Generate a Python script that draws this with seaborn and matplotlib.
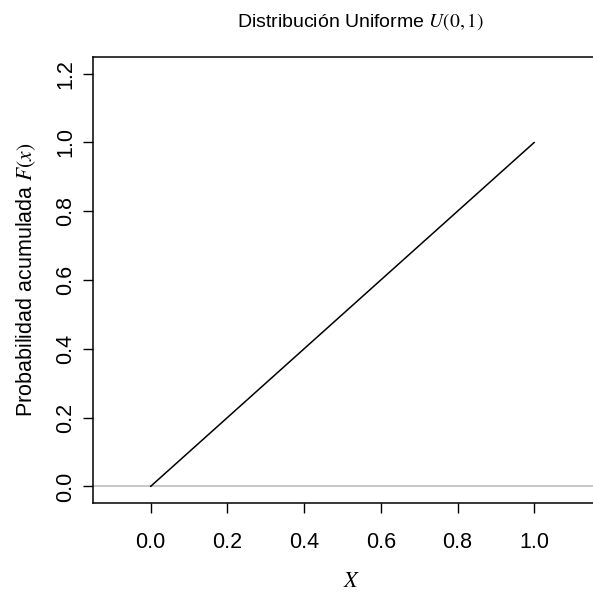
import numpy as np
import pandas as pd
import matplotlib
matplotlib.use("Agg")
import matplotlib.pyplot as plt
import seaborn as sns

# CDF of U(0,1) on its support
x_vals = [0.0, 1.0]
cdf_vals = [0.0, 1.0]
x_ticks = [0.0, 0.2, 0.4, 0.6, 0.8, 1.0]
y_ticks = [0.0, 0.2, 0.4, 0.6, 0.8, 1.0, 1.2]

sns.set_style("ticks")
plt.rcParams["font.family"] = ["Liberation Sans", "DejaVu Sans"]
plt.rcParams["mathtext.fontset"] = "stix"
plt.rcParams["text.color"] = "black"
plt.rcParams["axes.labelcolor"] = "black"
plt.rcParams["xtick.color"] = "black"
plt.rcParams["ytick.color"] = "black"

df = pd.DataFrame({"x": x_vals, "F": cdf_vals})

fig = plt.figure(figsize=(5.93, 5.93), dpi=100)
ax = fig.add_axes([0.1568, 0.1518, 0.8736, 0.752])

ax.axhline(0, color="#bebebe", lw=1.2, zorder=1)
sns.lineplot(data=df, x="x", y="F", color="black", lw=1.1, ax=ax, zorder=2)

ax.set_xlim(-0.15, 1.2)
ax.set_ylim(-0.048, 1.248)
ax.set_xticks(x_ticks)
ax.set_xticklabels([f"{v:.1f}" for v in x_ticks], fontsize=15.5)
ax.set_yticks(y_ticks)
ax.set_yticklabels([f"{v:.1f}" for v in y_ticks], fontsize=15.5, rotation=90, va="center")
ax.tick_params(axis="both", length=7.2, width=1, color="black")
ax.tick_params(axis="x", pad=14)
ax.tick_params(axis="y", pad=5)

for s in ["left", "bottom", "top"]:
    ax.spines[s].set_visible(True)
    ax.spines[s].set_color("black")
    ax.spines[s].set_linewidth(1.1)
ax.spines["right"].set_visible(False)

ax.set_xlabel(r"$X$", fontsize=16, labelpad=13)
ax.set_ylabel(r"Probabilidad acumulada $F(x)$", fontsize=15.5, labelpad=12)
ax.set_title(r"Distribución Uniforme $U(0,1)$", fontsize=14, pad=22, x=0.517)

fig.savefig("out.png", dpi=100)
